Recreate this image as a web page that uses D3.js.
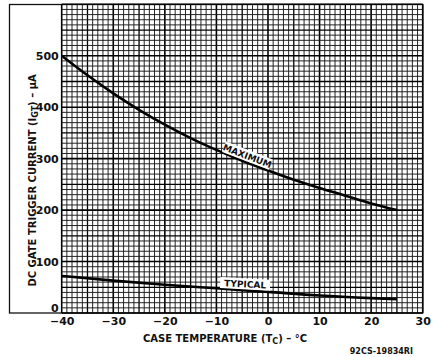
<!DOCTYPE html>
<html>
<head>
<meta charset="utf-8">
<script src="https://cdn.jsdelivr.net/npm/d3@7"></script>
<style>
  body { margin: 0; background: #fff; }
  text { font-family: "DejaVu Sans", sans-serif; fill: #111; }
</style>
</head>
<body>
<div class="chart"></div>
<script>
var temps = [-40, -35, -30, -25, -20, -15, -10, -5, 0, 5, 10, 15, 20, 25];
var maxCurrent = [500, 462, 427, 395, 366, 340, 317, 296, 277, 259, 243, 228, 213, 200];
var typTemps = [-40, -30, -20, -10, 0, 10, 20, 25];
var typCurrent = [72, 63, 55, 48, 41, 34, 29, 27];
var xTicks = [-40, -30, -20, -10, 0, 10, 20, 30];
var yTicks = [0, 100, 200, 300, 400, 500];

var svgWidth = 438;
var svgHeight = 357;

var svg = d3.select(".chart")
    .append("svg")
    .attr("width", svgWidth)
    .attr("height", svgHeight);

var x = d3.scaleLinear().domain([-40, 30]).range([61.7, 422.7]);
var y = d3.scaleLinear().domain([0, 600]).range([313, 4.3]);

// outer frame around the label area
svg.append("rect")
    .attr("x", 9.5).attr("y", 4.5)
    .attr("width", x(30) - 9.5).attr("height", y(0) - 4.5)
    .attr("fill", "none").attr("stroke", "#111").attr("stroke-width", 1.3);

// graph paper
var grid = svg.append("g");
d3.range(-40, 31, 1).forEach(function(t) {
    var w = t % 10 === 0 ? 1.6 : (t % 5 === 0 ? 1.3 : 0.95);
    grid.append("line")
        .attr("x1", x(t)).attr("x2", x(t))
        .attr("y1", y(600)).attr("y2", y(0))
        .attr("stroke", t % 5 === 0 ? "#000" : "#1a1a1a")
        .attr("stroke-width", w);
});
d3.range(0, 601, 10).forEach(function(v) {
    var w = v % 100 === 0 ? 1.6 : (v % 50 === 0 ? 1.3 : 0.95);
    grid.append("line")
        .attr("x1", x(-40)).attr("x2", x(30))
        .attr("y1", y(v)).attr("y2", y(v))
        .attr("stroke", v % 50 === 0 ? "#000" : "#1a1a1a")
        .attr("stroke-width", w);
});

// axes (labels only, the paper provides the lines)
var bottomAxis = d3.axisBottom(x).tickValues(xTicks).tickSize(0).tickPadding(4)
    .tickFormat(d3.format("d"));
var leftAxis = d3.axisLeft(y).tickValues(yTicks).tickSize(0).tickPadding(3)
    .tickFormat(d3.format("d"));

var xAxis = svg.append("g")
    .attr("transform", `translate(0, ${y(0)})`)
    .call(bottomAxis);
xAxis.select(".domain").remove();
xAxis.selectAll("text").attr("font-size", 11).attr("font-weight", "bold")
    .attr("font-family", "DejaVu Sans, sans-serif");

var yAxis = svg.append("g")
    .attr("transform", `translate(${x(-40)}, 0)`)
    .call(leftAxis);
yAxis.select(".domain").remove();
yAxis.selectAll("text").attr("font-size", 11).attr("font-weight", "bold")
    .attr("font-family", "DejaVu Sans, sans-serif")
    .attr("dy", (d) => d === 0 ? "-0.1em" : "0.32em");

// curves
var line = d3.line()
    .x((d) => x(d[0]))
    .y((d) => y(d[1]))
    .curve(d3.curveMonotoneX);

svg.append("path")
    .datum(temps.map((t, i) => [t, maxCurrent[i]]))
    .attr("d", line)
    .attr("fill", "none").attr("stroke", "#000").attr("stroke-width", 2.6);

svg.append("path")
    .datum(typTemps.map((t, i) => [t, typCurrent[i]]))
    .attr("d", line)
    .attr("fill", "none").attr("stroke", "#000").attr("stroke-width", 2.6);

// curve labels with white backing
function curveLabel(txt, cx, cy, angle) {
    var g = svg.append("g").attr("transform", `translate(${cx}, ${cy}) rotate(${angle})`);
    g.append("rect")
        .attr("x", -25).attr("y", -13).attr("width", 50).attr("height", 11)
        .attr("fill", "#fff");
    g.append("text")
        .attr("text-anchor", "middle").attr("y", -4)
        .attr("font-size", 9).attr("font-weight", "bold")
        .text(txt);
}
curveLabel("MAXIMUM", x(-4.5), y(296) + 2, 21);
curveLabel("TYPICAL", x(-4.5), y(44) + 1, 3);

// axis titles
var yTitle = svg.append("text")
    .attr("transform", `translate(36, ${(y(0) + y(500)) / 2 - 4}) rotate(-90)`)
    .attr("text-anchor", "middle")
    .attr("font-size", 10).attr("font-weight", "bold");
yTitle.append("tspan").text("DC GATE TRIGGER CURRENT (I");
yTitle.append("tspan").attr("font-size", 8).attr("dy", 2).text("GT");
yTitle.append("tspan").attr("dy", -2).text(") \u2013 \u03bcA");

var xTitle = svg.append("text")
    .attr("x", 225).attr("y", 342)
    .attr("text-anchor", "middle")
    .attr("font-size", 10).attr("font-weight", "bold");
xTitle.append("tspan").text("CASE TEMPERATURE (T");
xTitle.append("tspan").attr("font-size", 8).attr("dy", 2).text("C");
xTitle.append("tspan").attr("dy", -2).text(") \u2013 \u00b0C");

svg.append("text")
    .attr("x", 413).attr("y", 354)
    .attr("text-anchor", "end")
    .attr("font-size", 8).attr("font-weight", "bold")
    .text("92CS-19834RI");
</script>
</body>
</html>
